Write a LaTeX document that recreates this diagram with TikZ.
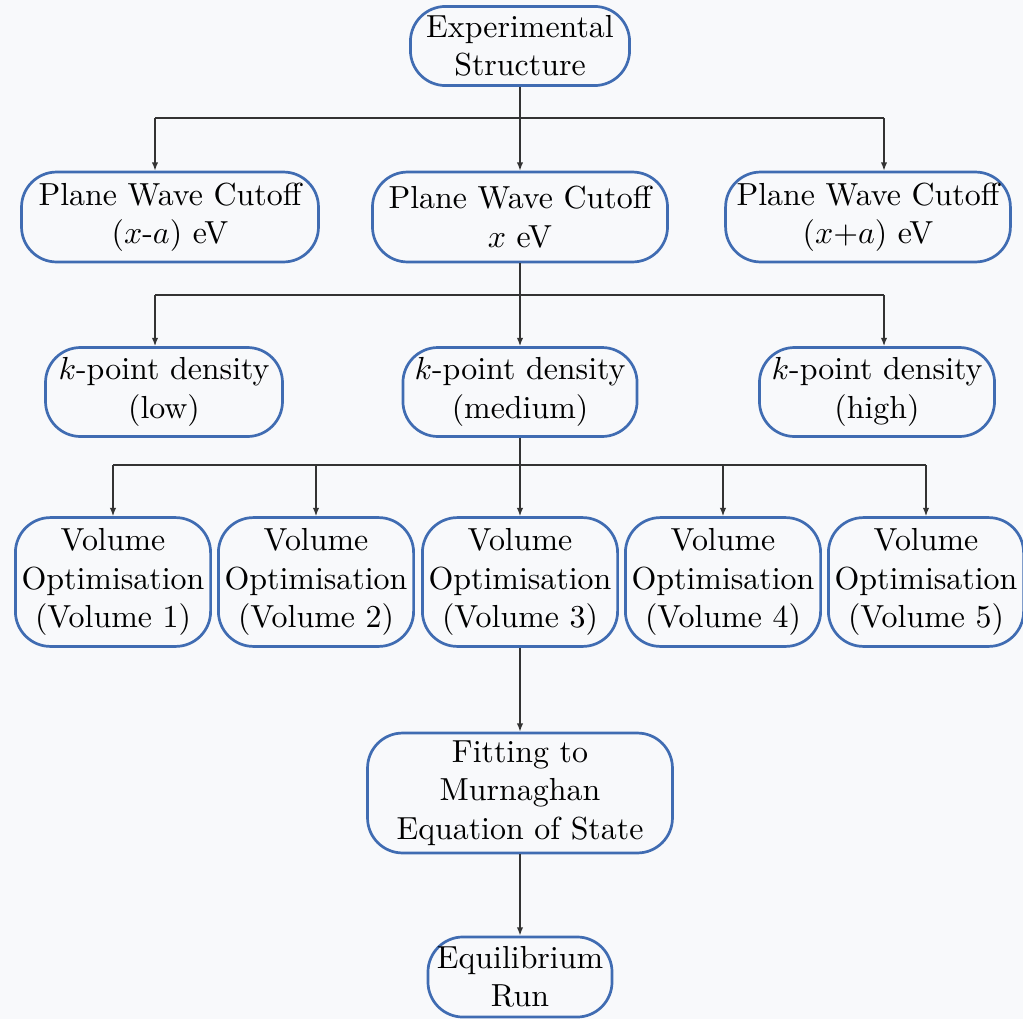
\documentclass[tikz,border=0pt]{standalone}
\usepackage{amsmath}
\usepackage{xcolor}
\usepackage{tikz}
\usetikzlibrary{arrows.meta,positioning,calc}
\definecolor{boxblue}{RGB}{64,108,178}
\definecolor{bgcol}{RGB}{248,249,251}
\tikzset{
    rect/.style={ % rounded flow boxes
        rectangle,
        rounded corners=11pt,
        draw=boxblue,
        line width=0.85pt,
        align=center,
        text centered,
        inner sep=1pt
        },
    rectpw/.style={ % cutoff boxes
        rect,
        minimum height=28.2pt
        },
    rectk/.style={ % k-point boxes
        rect,
        minimum height=27.9pt
        },
    rectv/.style={ % volume boxes
        rect,
        minimum width=61.2pt,
        minimum height=40.4pt
        },
    branch/.style={
        line width=0.45pt,
        draw=black!80
        },
    arrout/.style={
        branch,
        -{Latex[length=2.6pt,width=2pt]}
        }
}

\begin{document}
\begin{tikzpicture}[x=0.3135pt,y=-0.3135pt]
\fill[bgcol] (0,0) rectangle (1023,1019);
\useasboundingbox (0,0) rectangle (1023,1019);

%%%%% node exp
\node[rect, minimum width=68.7pt, minimum height=24.8pt] (exp) at (520,46) {Experimental\\Structure};

%%%%% cutoff nodes
\node[rectpw, minimum width=93.1pt] (pw1) at (170,217) {Plane Wave Cutoff\\($x$-$a$) eV};
\node[rectpw, minimum width=92.5pt] (pw2) at (520,217) {Plane Wave Cutoff\\$x$ eV};
\node[rectpw, minimum width=89.3pt] (pw3) at (868,217) {Plane Wave Cutoff\\($x$+$a$) eV};

%%%%% k-point nodes
\node[rectk, minimum width=74.3pt] (k1) at (164,392) {$k$-point density\\(low)};
\node[rectk, minimum width=73.4pt] (k2) at (520,392) {$k$-point density\\(medium)};
\node[rectk, minimum width=73.7pt] (k3) at (877,392) {$k$-point density\\(high)};

%%%%% volume nodes
\node[rectv] (v1) at (113,582) {Volume\\Optimisation\\(Volume 1)};
\node[rectv] (v2) at (316,582) {Volume\\Optimisation\\(Volume 2)};
\node[rectv] (v3) at (520,582) {Volume\\Optimisation\\(Volume 3)};
\node[rectv] (v4) at (723,582) {Volume\\Optimisation\\(Volume 4)};
\node[rectv] (v5) at (926,582) {Volume\\Optimisation\\(Volume 5)};

%%%%% node fit
\node[rect, minimum width=95.6pt, minimum height=37.6pt] (fit) at (520,793) {Fitting to\\Murnaghan\\Equation of State};

%%%%% node eq
\node[rect, minimum width=57.7pt, minimum height=25.1pt] (eq) at (520,977) {Equilibrium\\Run};

%%%%% edges exp -> cutoffs
\coordinate (b1l) at (155,118);
\coordinate (b1r) at (884,118);
\draw[branch] (b1l) -- (b1r);
\draw[arrout] (exp) -- (pw2);
\draw[arrout] (b1l) -- (b1l |- pw1.north);
\draw[arrout] (b1r) -- (b1r |- pw3.north);

%%%%% edges cutoff -> k-points
\coordinate (b2l) at (155,295);
\coordinate (b2r) at (884,295);
\draw[branch] (b2l) -- (b2r);
\draw[arrout] (pw2) -- (k2);
\draw[arrout] (b2l) -- (b2l |- k1.north);
\draw[arrout] (b2r) -- (b2r |- k3.north);

%%%%% edges k-point -> volumes
\coordinate (b3) at (520,465);
\draw[branch] (v1.north |- b3) -- (v5.north |- b3);
\draw[arrout] (k2) -- (v3);
\draw[arrout] (v1.north |- b3) -- (v1.north);
\draw[arrout] (v2.north |- b3) -- (v2.north);
\draw[arrout] (v4.north |- b3) -- (v4.north);
\draw[arrout] (v5.north |- b3) -- (v5.north);

%%%%% edges volume -> fit -> eq
\draw[arrout] (v3) -- (fit);
\draw[arrout] (fit) -- (eq);

\end{tikzpicture}
\end{document}
